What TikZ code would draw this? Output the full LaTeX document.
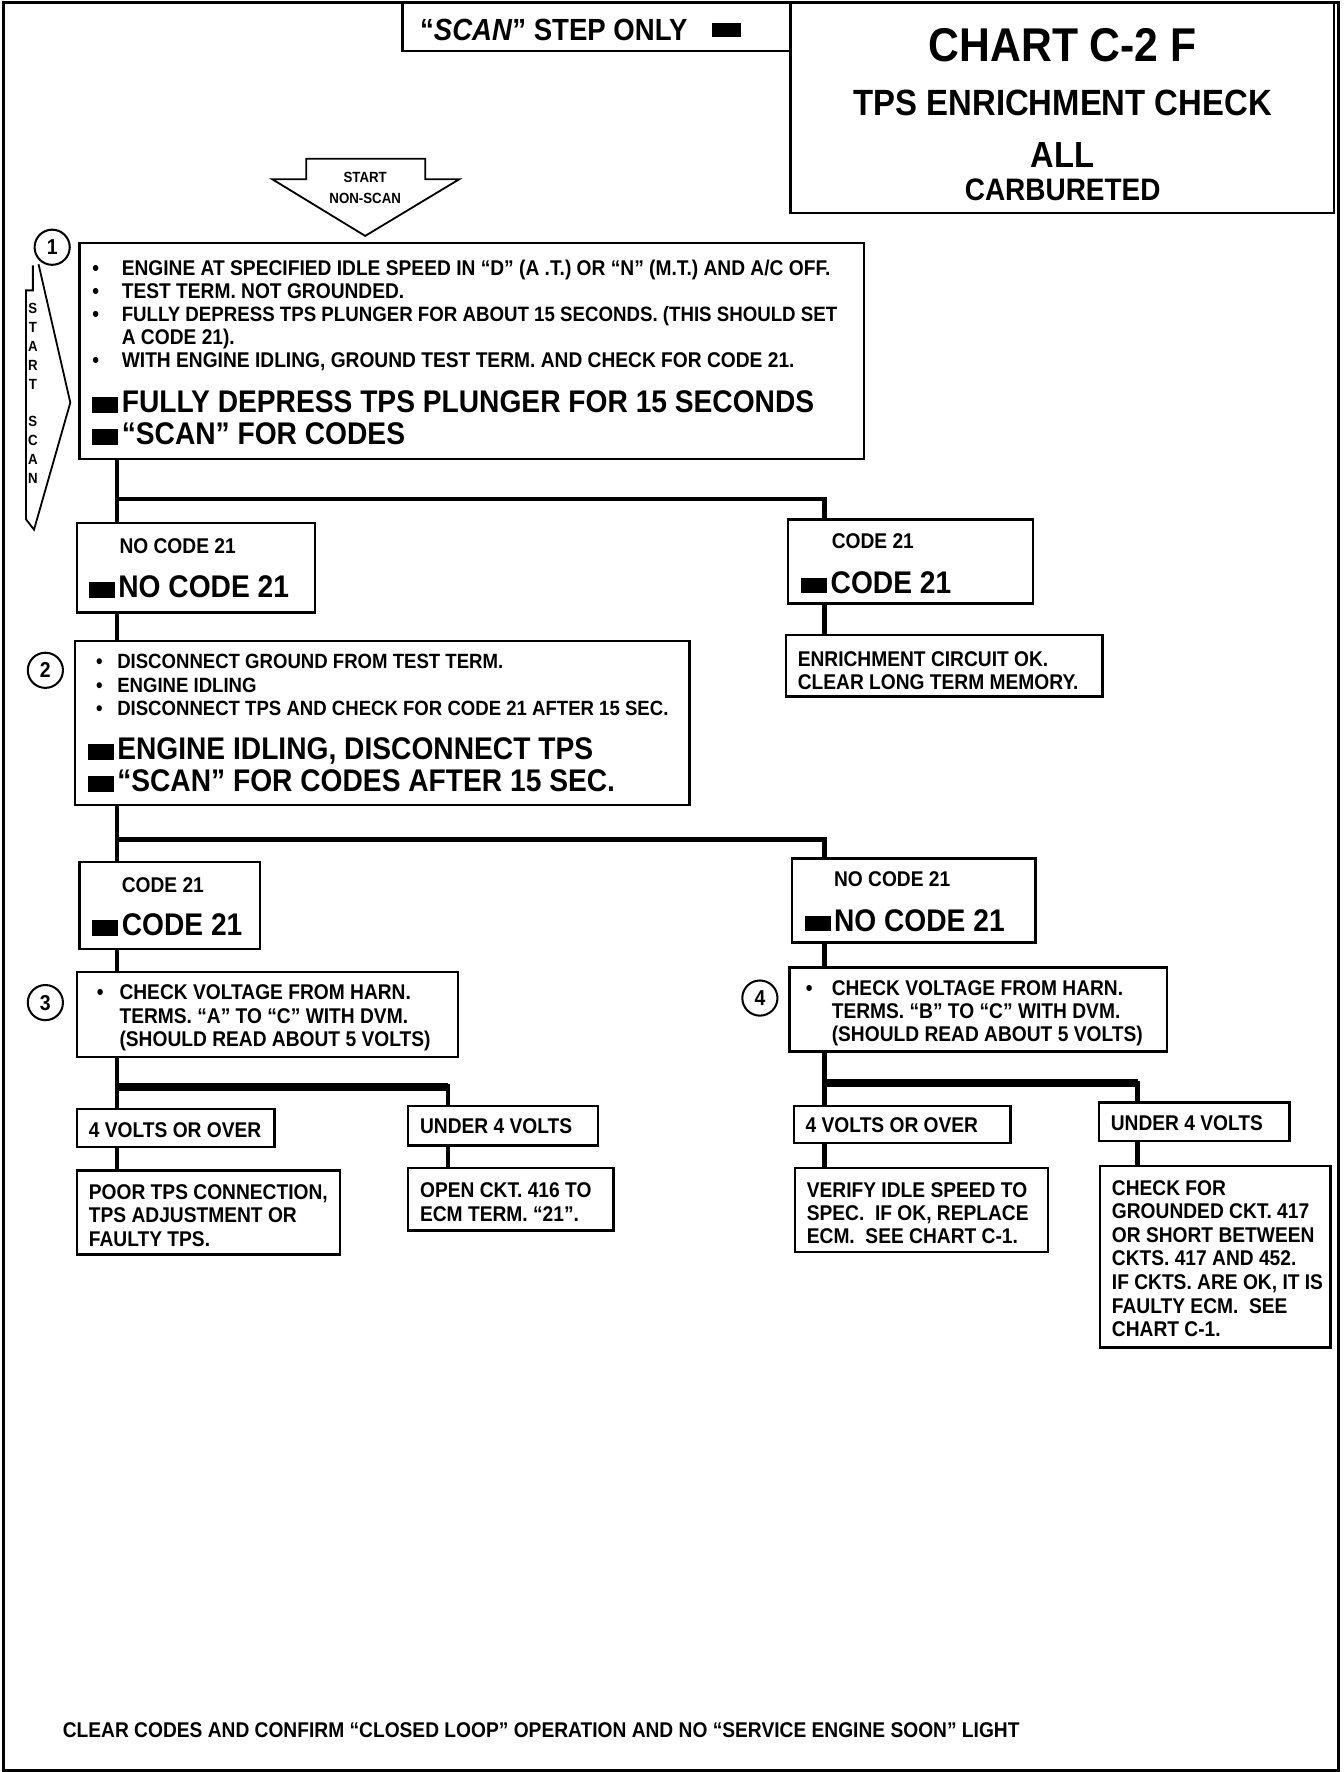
\documentclass[tikz,border=0pt]{standalone}
\usepackage{fontspec}
\setmainfont{Liberation Sans}[FakeStretch=0.9]
\usetikzlibrary{fit}

\newcommand\sm{\fontsize{9.4}{10.15}\selectfont\bfseries}
\newcommand\md{\fontsize{9.4}{10.3}\selectfont\bfseries}
\newcommand\bg{\fontsize{13.8}{14}\selectfont\bfseries}
\newcommand\sq{\llap{\rule{11.5pt}{6.8pt}\hspace{1.5pt}}}
\newcommand\bul[1][8pt]{\llap{\textbullet\hspace{#1}}}

\begin{document}
\begin{tikzpicture}[x=0.5pt, y=-0.5pt,
  box/.style={draw, line width=1pt, inner sep=0pt},
  wire/.style={line width=2pt},
  bar/.style={line width=3.5pt},
  txt/.style={anchor=base west, inner sep=0pt, align=left, font=\sm},
  mtxt/.style={txt, font=\md},
  big/.style={txt, font=\bg},
  num/.style={circle, draw, line width=0.9pt, minimum size=15.5pt, inner sep=0pt, font=\fontsize{9.5}{9.5}\selectfont\bfseries},
  tiny/.style={inner sep=0pt, align=center, font=\fontsize{6.5}{8.3}\selectfont\bfseries}]

\useasboundingbox (0,0) rectangle (1185,1562.4);

\draw[line width=1.5pt] (3,2) rectangle (1180,1561);

\node[box, fit={(355,2) (697,45)}] (scan) {};

\node[anchor=base west, inner sep=0pt, font=\fontsize{13.5}{14}\selectfont\bfseries] (scant) at (370,36) {“\textit{SCAN}” STEP ONLY\hspace{11pt}\raisebox{1.5pt}{\rule{12.5pt}{6.5pt}}};

\node[box, fit={(697,2) (1176,188)}] (chart) {};

\node[font=\fontsize{20.9}{21}\selectfont\bfseries] (title) at (937,40) {CHART C-2 F};

\node[font=\fontsize{16.1}{16}\selectfont\bfseries] (sub) at (937,91) {TPS ENRICHMENT CHECK};

\node[font=\fontsize{16}{16}\selectfont\bfseries] (all) at (937,137) {ALL};

\node[font=\fontsize{13.7}{14}\selectfont\bfseries] (carb) at (937,167) {CARBURETED};

% start arrows
\draw[line width=0.8pt] (270,140) -- (375,140) -- (375,158) -- (405,158) -- (322,208) -- (240,158) -- (270,158) -- cycle;

\node[tiny] (nsa) at (322,156) {START};

\node[tiny] (nsb) at (322,175) {NON-SCAN};

\draw[line width=0.8pt] (29,234) -- (29,256) -- (23,256) -- (23,458) -- (30,467) -- (62,355) -- (34,233);

\node[tiny] (scanv) at (29,347) {S\\T\\A\\R\\T\\[8.3pt]S\\C\\A\\N};

\node[num] (n1) at (46,218) {1};

\node[num] (n2) at (40,591) {2};

\node[num] (n3) at (40,884) {3};

\node[num] (n4) at (670,880) {4};

% step 1
\node[box, fit={(70,214) (762,405)}] (s1) {};

\node[txt] (s1t) at (107,324) {\bul[10pt]ENGINE AT SPECIFIED IDLE SPEED IN “D” (A .T.) OR “N” (M.T.) AND A/C OFF.\\
  \bul[10pt]TEST TERM. NOT GROUNDED.\\
  \bul[10pt]{\fontsize{9.15}{10.15}\selectfont FULLY DEPRESS TPS PLUNGER FOR ABOUT 15 SECONDS. (THIS SHOULD SET}\\
  A CODE 21).\\
  \bul[10pt]WITH ENGINE IDLING, GROUND TEST TERM. AND CHECK FOR CODE 21.};

\node[big] (s1b) at (107,392) {\sq FULLY DEPRESS TPS PLUNGER FOR 15 SECONDS\\ \sq “SCAN” FOR CODES};

\node[box, fit={(68,461) (278,540)}] (nc1) {};

\node[txt] (nc1t) at (105,487.7) {NO CODE 21};

\node[big] (nc1b) at (104,527) {\sq NO CODE 21};

\node[box, fit={(695,458) (911,532)}] (c1) {};

\node[txt] (c1t) at (733,483.7) {CODE 21};

\node[big] (c1b) at (732,523) {\sq CODE 21};

\node[box, fit={(693,560) (972,614)}] (ok) {};

\node[txt] (okt) at (703,607.7) {ENRICHMENT CIRCUIT OK.\\ CLEAR LONG TERM MEMORY.};

% step 2
\node[box, fit={(66,565) (608,710)}] (s2) {};

\node[txt, font=\fontsize{9.1}{10.25}\selectfont\bfseries] (s2t) at (103,630.7) {\bul[6.5pt]DISCONNECT GROUND FROM TEST TERM.\\
  \bul[6.5pt]ENGINE IDLING\\
  \bul[6.5pt]DISCONNECT TPS AND CHECK FOR CODE 21 AFTER 15 SEC.};

\node[big] (s2b) at (103,698) {\sq ENGINE IDLING, DISCONNECT TPS\\ \sq “SCAN” FOR CODES AFTER 15 SEC.};

\node[box, fit={(70,760) (229,837)}] (c2) {};

\node[txt] (c2t) at (107,786.7) {CODE 21};

\node[big] (c2b) at (107,825) {\sq CODE 21};

\node[box, fit={(698,757) (913,831)}] (nc2) {};

\node[txt] (nc2t) at (735,781.7) {NO CODE 21};

\node[big] (nc2b) at (735,821) {\sq NO CODE 21};

% steps 3 and 4
\node[box, fit={(68,857) (404,932)}] (s3) {};

\node[mtxt] (s3t) at (105,922.7) {\bul[7pt]CHECK VOLTAGE FROM HARN.\\ TERMS. “A” TO “C” WITH DVM.\\ (SHOULD READ ABOUT 5 VOLTS)};

\node[box, fit={(696,853) (1029,927)}] (s4) {};

\node[mtxt] (s4t) at (733,918.7) {\bul[8.5pt]CHECK VOLTAGE FROM HARN.\\ TERMS. “B” TO “C” WITH DVM.\\ (SHOULD READ ABOUT 5 VOLTS)};

\node[box, fit={(68,978) (242,1011)}] (ov3) {};

\node[mtxt] (ov3t) at (78,1002.7) {4 VOLTS OR OVER};

\node[box, fit={(360,975) (527,1010)}] (un3) {};

\node[mtxt] (un3t) at (370,999.7) {UNDER 4 VOLTS};

\node[box, fit={(68,1032) (300,1106)}] (poor) {};

\node[mtxt] (poort) at (78,1098.7) {POOR TPS CONNECTION,\\ TPS ADJUSTMENT OR\\ FAULTY TPS.};

\node[box, fit={(360,1030) (541,1085)}] (open) {};

\node[mtxt] (opent) at (370,1076.7) {OPEN CKT. 416 TO\\ ECM TERM. “21”.};

\node[box, fit={(700,975) (891,1008)}] (ov4) {};

\node[mtxt] (ov4t) at (710,998.7) {4 VOLTS OR OVER};

\node[box, fit={(969,972) (1137,1006)}] (un4) {};

\node[mtxt] (un4t) at (979,996.7) {UNDER 4 VOLTS};

\node[box, fit={(701,1030) (924,1104)}] (ver) {};

\node[mtxt] (vert) at (711,1096.7) {VERIFY IDLE SPEED TO\\ SPEC.\ \ IF OK, REPLACE\\ ECM.\ \ SEE CHART C-1.};

\node[box, fit={(970,1028) (1173,1188)}] (chk) {};

\node[mtxt, font=\fontsize{9.4}{10.42}\selectfont\bfseries] (chkt) at (980,1178.7) {CHECK FOR\\ GROUNDED CKT. 417\\ OR SHORT BETWEEN\\ CKTS. 417 AND 452.\\ IF CKTS. ARE OK, IT IS\\ FAULTY ECM.\ \ SEE\\ CHART C-1.};

\node[txt] (foot) at (55,1531.7) {CLEAR CODES AND CONFIRM “CLOSED LOOP” OPERATION AND NO “SERVICE ENGINE SOON” LIGHT};

% connectors
\coordinate (L) at (103,0);
\coordinate (R) at (727,0);
\coordinate (L2) at (395,0);
\coordinate (R2) at (1003,0);
\coordinate (j1) at (103,440);
\coordinate (j2) at (103,740);
\coordinate (j3) at (103,958);
\coordinate (j4) at (727,955);

\draw[wire] (s1.south -| L) -- (nc1.north -| L);

\draw[wire] (j1) -| (c1.north -| R);

\draw[wire] (nc1.south -| L) -- (s2.north -| L);

\draw[wire] (c1.south -| R) -- (ok.north -| R);

\draw[wire] (s2.south -| L) -- (c2.north -| L);

\draw[wire] (j2) -| (nc2.north -| R);

\draw[wire] (c2.south -| L) -- (s3.north -| L);

\draw[wire] (nc2.south -| R) -- (s4.north -| R);

\draw[wire] (s3.south -| L) -- (ov3.north -| L);

\draw[wire] (j3) -| (un3.north -| L2);

\draw[bar] (j3) -- (j3 -| L2);

\draw[wire] (ov3.south -| L) -- (poor.north -| L);

\draw[wire] (un3.south -| L2) -- (open.north -| L2);

\draw[wire] (s4.south -| R) -- (ov4.north -| R);

\draw[wire] (j4) -| (un4.north -| R2);

\draw[bar] (j4) -- (j4 -| R2);

\draw[wire] (ov4.south -| R) -- (ver.north -| R);

\draw[wire] (un4.south -| R2) -- (chk.north -| R2);

\end{tikzpicture}
\end{document}
